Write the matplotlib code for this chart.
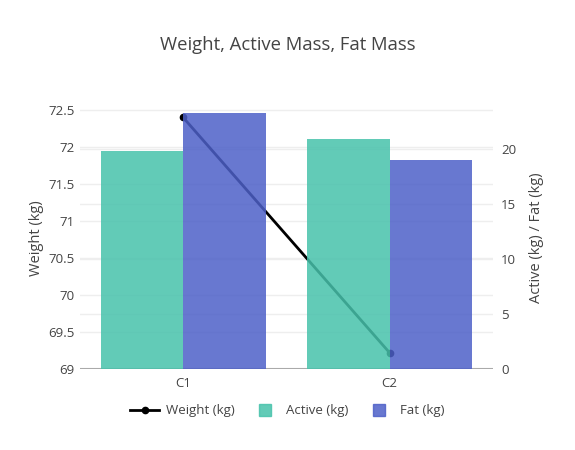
import matplotlib
matplotlib.use("Agg")
import matplotlib.pyplot as plt
import numpy as np
from matplotlib.lines import Line2D

plt.rcParams['font.family'] = ['Open Sans', 'DejaVu Sans']

categories = ['C1', 'C2']
weight = [72.4, 69.22]
active = [19.8, 20.9]
fat = [23.25, 19.0]

txt = '#444444'
grid = '#eeeeee'
c_active = '#47c2ab'
c_fat = '#4d60c8'

fig = plt.figure(figsize=(5.75, 4.5), dpi=100)
ax = fig.add_axes([0.139, 0.18, 0.718, 0.582])
ax2 = ax.twinx()

x = np.arange(len(categories))

# weight line sits under the bars
ax.plot(x, weight, color='black', lw=2, marker='o', ms=4.5, zorder=1)
ax.set_zorder(1)
ax.patch.set_visible(False)
ax2.set_zorder(2)

ax2.bar(x - 0.2, active, width=0.4, color=c_active, alpha=0.85, zorder=3)
ax2.bar(x + 0.2, fat, width=0.4, color=c_fat, alpha=0.85, zorder=3)

ax.set_xlim(-0.5, 1.5)
ax.set_ylim(69, 72.54)
ax2.set_ylim(0, 23.8)
ax.set_yticks([69, 69.5, 70, 70.5, 71, 71.5, 72, 72.5])
ax.set_yticklabels(['69', '69.5', '70', '70.5', '71', '71.5', '72', '72.5'])
ax2.set_yticks([0, 5, 10, 15, 20])
ax.set_xticks(x)
ax.set_xticklabels(categories)

for a in (ax, ax2):
    for s in a.spines.values():
        s.set_visible(False)
    a.tick_params(length=0, colors=txt, labelsize=9.5)

# grid lines for both y axes, behind everything
bg = fig.add_axes(ax.get_position(), zorder=0)
bg.set_xlim(0, 1)
bg.set_ylim(0, 1)
bg.axis('off')
for v in [69.5, 70, 70.5, 71, 71.5, 72, 72.5]:
    bg.axhline((v - 69) / 3.54, color=grid, lw=1)
for v in [5, 10, 15, 20]:
    bg.axhline(v / 23.8, color=grid, lw=1)
bg.axhline(0, color='#aaaaaa', lw=1.5)

ax.tick_params(axis='x', pad=6)
ax.tick_params(axis='y', pad=4)
ax2.tick_params(axis='y', pad=6)

ax.set_ylabel('Weight (kg)', color=txt, fontsize=10.5, labelpad=3)
ax2.set_ylabel('Active (kg) / Fat (kg)', color=txt, fontsize=10.5, labelpad=9)

fig.text(0.5, 0.9, 'Weight, Active Mass, Fat Mass', ha='center', va='center',
         color=txt, fontsize=13.3)

handles = [
    Line2D([0], [0], color='black', lw=2, marker='o', ms=4.5),
    Line2D([0], [0], ls='none', marker='s', ms=9, color=c_active, alpha=0.85),
    Line2D([0], [0], ls='none', marker='s', ms=9, color=c_fat, alpha=0.85),
]
fig.legend(handles, ['Weight (kg)', 'Active (kg)', 'Fat (kg)'], loc='center',
           bbox_to_anchor=(0.5, 0.087), ncol=3, frameon=False, fontsize=9.5,
           labelcolor=txt, handlelength=2.2, handletextpad=0.5, columnspacing=1.2)

fig.savefig('out.png', dpi=100, facecolor='white')
